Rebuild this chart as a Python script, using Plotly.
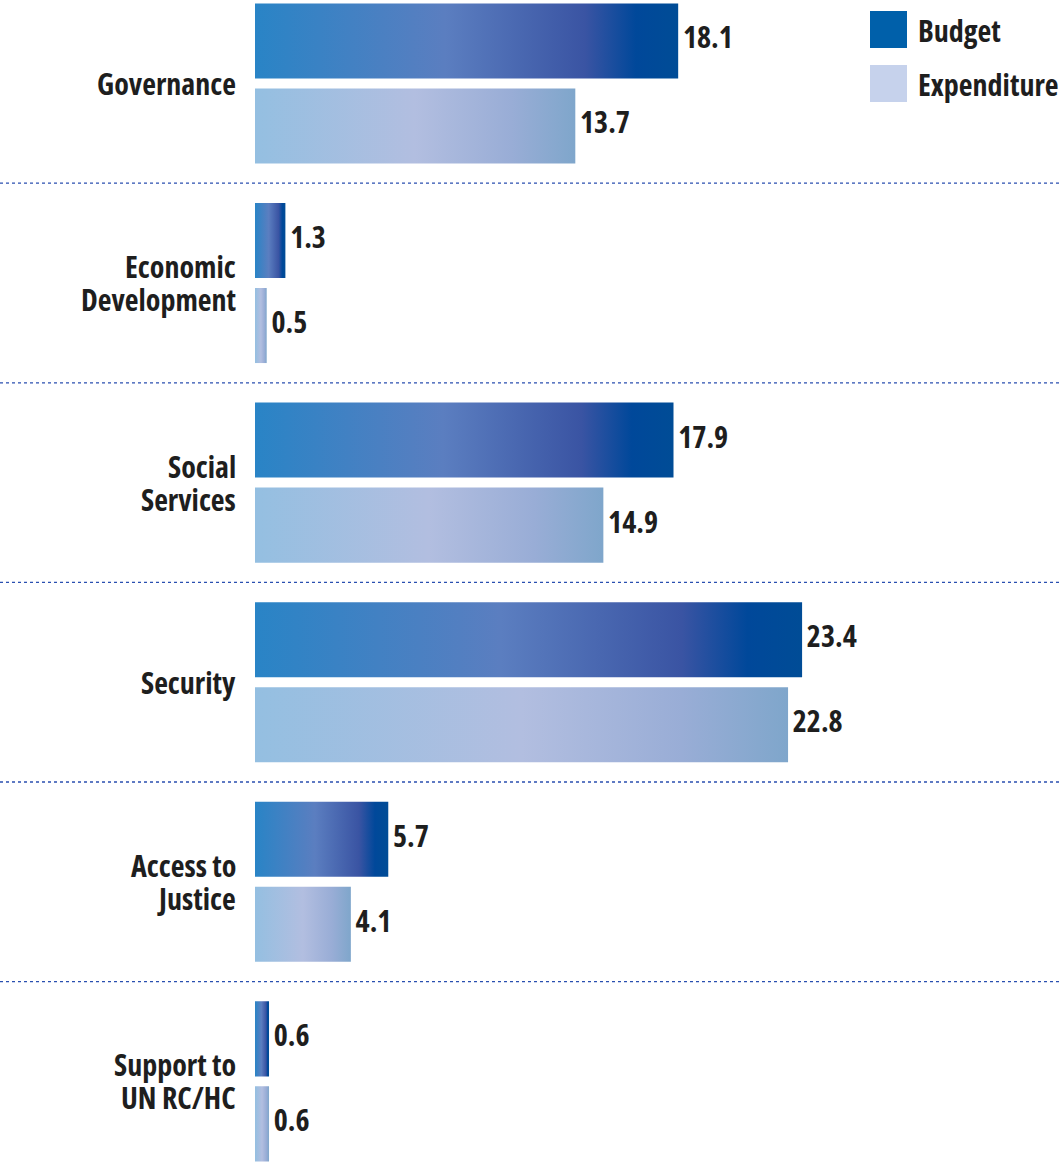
import plotly.graph_objects as go

categories = ["Governance", "Economic<br>Development", "Social<br>Services", "Security",
              "Access to<br>Justice", "Support to<br>UN RC/HC"]
budget = [18.1, 1.3, 17.9, 23.4, 5.7, 0.6]
expenditure = [13.7, 0.5, 14.9, 22.8, 4.1, 0.6]
series_names = ["Budget", "Expenditure"]

FONT = "Open Sans, Roboto, DejaVu Sans Condensed, sans-serif"
STRETCH = "semi-condensed"
FSIZE = 30
LINE_GAP = 33


def cond(txt):
    return f"<span style='font-stretch:{STRETCH}'>{txt}</span>"


budget_scale = [[0.0, "#2984C6"], [0.45, "#5B7EC0"], [0.78, "#3A54A3"], [0.9, "#00489A"], [1.0, "#004C96"]]
exp_scale = [[0.0, "#94BFE1"], [0.5, "#B2BEE0"], [0.8, "#99ADD6"], [1.0, "#7FA6CB"]]

OFF = 0.213
HALF = 0.188

fig = go.Figure()

for i, (b, e) in enumerate(zip(budget, expenditure)):
    for val, off, scale in [(b, -OFF, budget_scale), (e, OFF, exp_scale)]:
        c = i + off
        fig.add_trace(go.Scatter(
            x=[0, val, val, 0, 0],
            y=[c - HALF, c - HALF, c + HALF, c + HALF, c - HALF],
            mode="lines", fill="toself", line=dict(width=0),
            fillgradient=dict(type="horizontal", colorscale=scale),
            showlegend=False, hoverinfo="skip"))

for vals, off in [(budget, -OFF), (expenditure, OFF)]:
    fig.add_trace(go.Scatter(
        x=vals, y=[i + off for i in range(len(vals))],
        mode="markers+text", text=[cond(f"{v:.1f}") for v in vals],
        textposition="middle right",
        marker=dict(size=6, color="rgba(0,0,0,0)"),
        textfont=dict(family=FONT, size=FSIZE, color="#1e1e1e", weight="bold"),
        showlegend=False, hoverinfo="skip"))

annotations = []
for i, cat in enumerate(categories):
    parts = cat.split("<br>")
    n = len(parts)
    for k, p in enumerate(parts):
        shift = ((n - 1) / 2 - k) * LINE_GAP
        annotations.append(dict(x=0, y=i, xref="x", yref="y", text=cond(p), showarrow=False,
                                xanchor="right", yanchor="middle", align="right", xshift=-17,
                                yshift=shift,
                                font=dict(family=FONT, size=FSIZE, color="#1e1e1e", weight="bold")))

shapes = []
for i in range(len(categories) - 1):
    shapes.append(dict(type="line", xref="paper", x0=0, x1=1, yref="y", y0=i + 0.5, y1=i + 0.5,
                       line=dict(color="#2A4FB0", width=1.3, dash="dot")))

W, H = 1062, 1162
leg_colors = ["#0060AA", "#C6D2EC"]
leg_tops = [11, 65]
for name, col, top in zip(series_names, leg_colors, leg_tops):
    shapes.append(dict(type="rect", xref="paper", yref="paper",
                       x0=870 / W, x1=907 / W, y0=1 - top / H, y1=1 - (top + 37) / H,
                       fillcolor=col, line=dict(width=0)))
    annotations.append(dict(x=916 / W, y=1 - (top + 19) / H, xref="paper", yref="paper",
                            text=cond(name), showarrow=False, xanchor="left", yanchor="middle",
                            font=dict(family=FONT, size=FSIZE, color="#1e1e1e", weight="bold")))

fig.update_layout(
    width=W, height=H, margin=dict(l=0, r=0, t=0, b=0),
    paper_bgcolor="white", plot_bgcolor="white",
    xaxis=dict(range=[-255 / 23.38, (W - 255) / 23.38], visible=False),
    yaxis=dict(range=[5.404, -0.418], visible=False),
    annotations=annotations, shapes=shapes, showlegend=False)

fig.write_html("out.html")
